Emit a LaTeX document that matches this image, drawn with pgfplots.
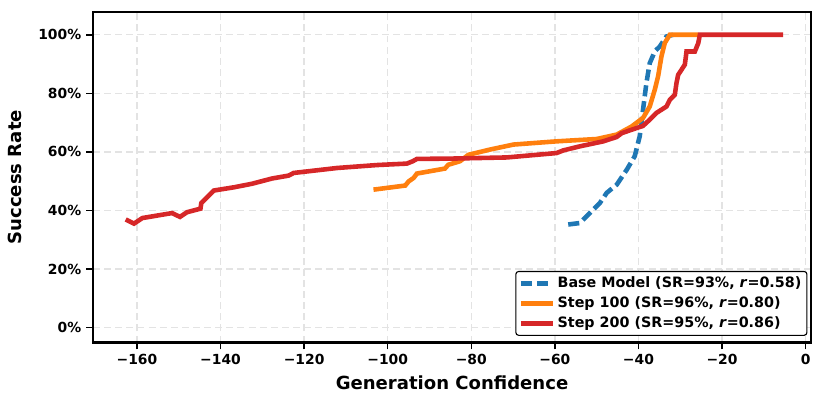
\documentclass[border=0pt]{standalone}
\usepackage{pgfplots}
\pgfplotsset{compat=1.18}
\usepackage{fontspec}
\setmainfont{DejaVu Sans}
\definecolor{tabblue}{HTML}{1F77B4}
\definecolor{taborange}{HTML}{FF7F0E}
\definecolor{tabred}{HTML}{D62728}
\begin{document}
\begin{tikzpicture}
\useasboundingbox (-67pt,-36.7pt) rectangle (518.4pt,246.6pt);
\begin{axis}[
  at={(0,0)}, anchor=south west,
  scale only axis, width=517pt, height=238pt,
  xmin=-170.5, xmax=1.3, ymin=-5.1, ymax=107.8,
  xtick={-160,-140,-120,-100,-80,-60,-40,-20,0},
  xticklabels={−160,−140,−120,−100,−80,−60,−40,−20,0},
  ytick={0,20,40,60,80,100},
  yticklabels={0\%,20\%,40\%,60\%,80\%,100\%},
  tick label style={font=\bfseries\fontsize{10}{12}\selectfont},
  label style={font=\bfseries\fontsize{13}{15}\selectfont},
  xlabel={Generation Confidence}, ylabel={Success Rate},
  ylabel shift=5pt, xlabel shift=1pt,
  axis line style={line width=1.8pt},
  tick style={line width=1.1pt, black},
  tick align=outside, major tick length=5pt,
  xtick pos=lower, ytick pos=left,
  grid=major, grid style={dash pattern=on 5pt off 3pt, line width=1pt, color=black!11},
  legend style={at={(0.995,0.02)}, anchor=south east, draw=black, line width=0.8pt,
    rounded corners=2pt, font=\bfseries\fontsize{10.3}{12}\selectfont, inner sep=2pt,
    row sep=1pt},
  legend cell align=left,
  legend image code/.code={\draw[#1] (0cm,0cm) -- (0.8cm,0cm);},
]
\addplot[tabblue, line width=3.3pt, dash pattern=on 8pt off 3.5pt] coordinates {
(-56.8,35.2) (-54.0,35.7) (-52.0,38.6) (-49.2,42.6) (-47.6,46.0) (-45.2,48.8)
(-42.8,53.9) (-40.9,58.5) (-39.7,65.3) (-38.9,74.4) (-38.1,83.5) (-37.3,90.3)
(-36.1,94.3) (-34.9,96.0) (-33.3,99.4) (-31.7,100)
};
\addlegendentry{Base Model (SR=93\%, \textit{r}=0.58)}
\addplot[taborange, line width=3.3pt] coordinates {
(-103.4,47.1) (-95.8,48.5) (-95.0,49.9) (-93.8,51.1) (-93.0,52.6) (-86.3,54.3)
(-85.5,55.6) (-82.7,56.8) (-80.7,59.0) (-75.5,60.8) (-69.9,62.5) (-59.6,63.6)
(-50.0,64.4) (-45.2,65.9) (-41.6,68.7) (-38.9,71.6) (-37.3,75.5) (-36.1,81.2)
(-35.3,85.8) (-34.5,92.6) (-33.7,97.2) (-32.5,100) (-25.7,100)
};
\addlegendentry{Step 100 (SR=96\%, \textit{r}=0.80)}
\addplot[tabred, line width=3.3pt] coordinates {
(-162.7,36.9) (-160.7,35.5) (-158.7,37.4) (-151.6,39.1) (-149.7,37.8) (-148.0,39.4)
(-144.8,40.6) (-144.6,42.5) (-141.6,46.8) (-136.8,47.9) (-132.5,49.1) (-127.7,50.9)
(-123.7,51.9) (-122.5,52.8) (-112.1,54.5) (-102.6,55.5) (-95.4,56.0) (-94.0,56.8)
(-93.0,57.6) (-85.1,57.7) (-71.5,58.1) (-59.6,59.6) (-58.0,60.5) (-54.0,61.9)
(-48.4,63.6) (-45.2,65.1) (-44.0,66.4) (-38.9,68.9) (-37.3,71.0) (-35.7,73.3)
(-33.3,75.5) (-32.5,77.8) (-31.3,79.5) (-30.9,83.5) (-30.5,86.3) (-28.9,89.8)
(-28.5,94.3) (-26.5,94.3) (-25.7,97.1) (-25.3,100) (-5.4,100)
};
\addlegendentry{Step 200 (SR=95\%, \textit{r}=0.86)}
\end{axis}
\end{tikzpicture}
\end{document}
